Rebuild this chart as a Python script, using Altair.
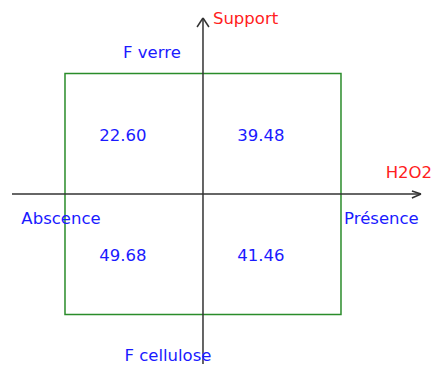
import altair as alt
import pandas as pd

# Design levels (coded -1 / +1)
h2o2_levels = [-1, 1, -1, 1]
support_levels = [1, 1, -1, -1]
responses = ["22.60", "39.48", "49.68", "41.46"]

# Factor / level labels
label_texts = ["Support", "H2O2", "F verre", "F cellulose", "Abscence", "Présence"]
label_x = [0.072, 1.66, -0.37, -0.254, -1.029, 1.293]
label_y = [1.411, 0.133, 1.129, -1.386, -0.249, -0.249]
label_align = ["left", "right", "center", "center", "center", "center"]
label_color = ["#ff2020", "#ff2020", "#1a1aff", "#1a1aff", "#1a1aff", "#1a1aff"]

# Axes with open arrowheads (coded units)
seg_x = [-1.384, 0.0, 1.514, 1.514, -0.043, 0.043]
seg_y = [0.0, 1.461, 0.025, -0.033, 1.386, 1.386]
seg_x2 = [1.58, 0.0, 1.58, 1.58, 0.0, 0.0]
seg_y2 = [0.0, -1.411, 0.0, 0.0, 1.461, 1.461]

XD = [-1.413, 1.674]
YD = [-1.411, 1.544]

xs = alt.Scale(domain=XD, nice=False, zero=False)
ys = alt.Scale(domain=YD, nice=False, zero=False)

cells = pd.DataFrame({
    "x": [0.5 * v for v in h2o2_levels],
    "y": [0.5 * v for v in support_levels],
    "t": responses,
})
labels = pd.DataFrame({"x": label_x, "y": label_y, "t": label_texts,
                       "a": label_align, "c": label_color})
segs = pd.DataFrame({"x": seg_x, "y": seg_y, "x2": seg_x2, "y2": seg_y2})
square = pd.DataFrame({"x": [-1], "x2": [1], "y": [-1], "y2": [1]})

sq = alt.Chart(square).mark_rect(fill=None, fillOpacity=0, stroke="#2a8c2a", strokeWidth=1.5).encode(
    x=alt.X("x:Q", scale=xs, axis=None), x2="x2:Q",
    y=alt.Y("y:Q", scale=ys, axis=None), y2="y2:Q")

ax = alt.Chart(segs).mark_rule(color="#333333", strokeWidth=1.5).encode(
    x=alt.X("x:Q", scale=xs, axis=None), x2="x2:Q",
    y=alt.Y("y:Q", scale=ys, axis=None), y2="y2:Q")

vals = alt.Chart(cells).mark_text(font="DejaVu Sans", fontSize=16.5, color="#1a1aff",
                                  baseline="middle", align="center", dx=-11, dy=2).encode(
    x=alt.X("x:Q", scale=xs, axis=None),
    y=alt.Y("y:Q", scale=ys, axis=None),
    text="t:N")

def lab(align):
    d = labels[labels["a"] == align]
    return alt.Chart(d).mark_text(font="DejaVu Sans", fontSize=16.5, baseline="alphabetic",
                                  align=align).encode(
        x=alt.X("x:Q", scale=xs, axis=None),
        y=alt.Y("y:Q", scale=ys, axis=None),
        text="t:N",
        color=alt.Color("c:N", scale=None))

chart = alt.layer(sq, ax, vals, lab("left"), lab("right"), lab("center")).properties(
    width=426, height=356, padding=0, autosize=alt.AutoSizeParams(type="none"),
    background="white"
).configure_view(stroke=None)

chart.save("out.html", embed_options={"renderer": "svg", "actions": False})
